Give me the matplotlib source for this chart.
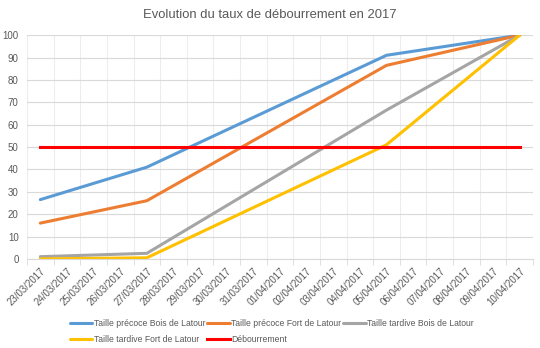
import numpy as np
import matplotlib
matplotlib.use("Agg")
import matplotlib.pyplot as plt

plt.rcParams['font.family'] = ['Liberation Sans', 'DejaVu Sans']

dates = ["23/03/2017", "24/03/2017", "25/03/2017", "26/03/2017", "27/03/2017",
         "28/03/2017", "29/03/2017", "30/03/2017", "31/03/2017", "01/04/2017",
         "02/04/2017", "03/04/2017", "04/04/2017", "05/04/2017", "06/04/2017",
         "07/04/2017", "08/04/2017", "09/04/2017", "10/04/2017"]

# observation dates (index in dates)
obs_idx = [0, 4, 13, 18]
precoce_bois = [26.5, 41, 91, 100]
precoce_fort = [16, 26, 86.5, 100]
tardive_bois = [1, 2.5, 66.5, 100]
tardive_fort = [0, 0.5, 51, 100]
debourrement = [50, 50]
deb_idx = [0, 18]

series = [
    ("Taille précoce Bois de Latour", precoce_bois, "#5B9BD5"),
    ("Taille précoce Fort de Latour", precoce_fort, "#ED7D31"),
    ("Taille tardive Bois de Latour", tardive_bois, "#A5A5A5"),
    ("Taille tardive Fort de Latour", tardive_fort, "#FFC000"),
]

fig = plt.figure(figsize=(5.4, 3.48), dpi=100)
ax = fig.add_axes([0.05, 0.256, 0.937, 0.643])

handles = []
for name, vals, col in series:
    h, = ax.plot(obs_idx, vals, color=col, lw=2.2, label=name, solid_capstyle="round")
    handles.append(h)
h, = ax.plot(deb_idx, debourrement, color="#FF0000", lw=2.2, label="Débourrement")
handles.append(h)

ax.set_xlim(-0.5, len(dates) - 0.5)
ax.set_ylim(0, 100)
ax.set_yticks(np.arange(0, 101, 10))
ax.set_xticks(range(len(dates)))
ax.set_xticklabels(dates, rotation=45, ha="right", rotation_mode="anchor", fontsize=7, color="#595959")
ax.set_xticks(np.arange(-0.5, len(dates), 1), minor=True)
ax.tick_params(axis="x", which="major", length=0, pad=5)
ax.tick_params(axis="x", which="minor", length=4, color="#D9D9D9")
ax.tick_params(axis="y", length=0, labelsize=7, labelcolor="#595959", pad=6)

ax.grid(True, axis="y", color="#D9D9D9", lw=0.8)
ax.grid(True, axis="x", which="minor", color="#EDEDED", lw=0.8)
ax.set_axisbelow(True)
for s in ["top", "right", "left"]:
    ax.spines[s].set_visible(False)
ax.spines["bottom"].set_color("#D9D9D9")

fig.text(0.5, 0.958, "Evolution du taux de débourrement en 2017", ha="center", va="center",
         fontsize=9.4, color="#595959")

order = [0, 3, 1, 4, 2]
fig.legend([handles[i] for i in order], [handles[i].get_label() for i in order],
           ncol=3, loc="lower left", bbox_to_anchor=(0.115, -0.012), frameon=False,
           fontsize=6.2, labelcolor="#595959", handlelength=2.6, handletextpad=0.15,
           columnspacing=0.25, labelspacing=0.9)

fig.savefig("out.png", dpi=100)
